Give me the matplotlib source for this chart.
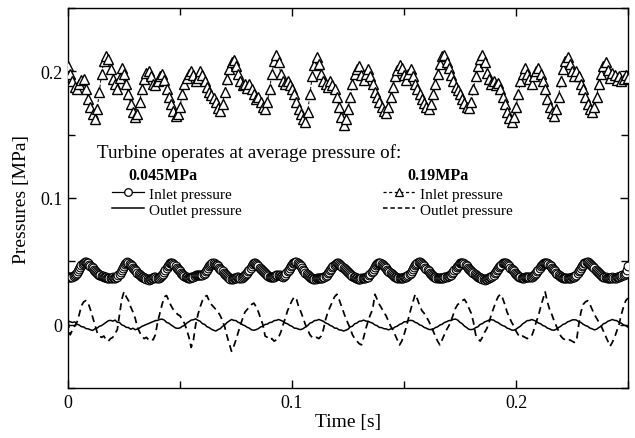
import numpy as np
import matplotlib
matplotlib.use("Agg")
import matplotlib.pyplot as plt
from matplotlib.lines import Line2D
from matplotlib.ticker import MultipleLocator, FuncFormatter

plt.rcParams['font.family'] = ['Liberation Serif', 'DejaVu Serif']

# ---------------- data (kPa) ----------------
# samples at every 1 ms (0 ... 250 ms)
inlet_019_kpa = [
    204, 198, 192, 188, 186, 190, 193, 194, 186, 178,
    172, 166, 162, 170, 184, 198, 208, 212, 210, 202,
    194, 190, 186, 195, 203, 198, 190, 182, 174, 168,
    164, 166, 176, 186, 194, 199, 200, 196, 190, 189,
    192, 196, 198, 193, 186, 180, 174, 169, 165, 166,
    172, 182, 190, 195, 198, 200, 197, 192, 195, 200,
    197, 192, 188, 184, 181, 179, 176, 171, 169, 174,
    184, 194, 202, 207, 209, 204, 198, 192, 189, 190,
    187, 190, 186, 182, 178, 180, 176, 172, 170, 176,
    186, 198, 208, 213, 207, 198, 192, 190, 192, 189,
    186, 182, 176, 170, 166, 162, 160, 168, 182, 196,
    205, 211, 206, 198, 192, 190, 188, 192, 189, 186,
    180, 172, 164, 158, 162, 170, 180, 190, 198, 202,
    204, 197, 193, 198, 202, 196, 190, 184, 180, 176,
    172, 169, 167, 172, 180, 188, 196, 201, 205, 203,
    197, 193, 198, 202, 196, 190, 186, 182, 178, 175,
    172, 170, 174, 182, 190, 198, 206, 212, 213, 207,
    203, 197, 192, 188, 185, 182, 178, 175, 172, 171,
    176, 186, 196, 204, 210, 213, 207, 199, 194, 190,
    192, 189, 191, 186, 180, 174, 168, 163, 160, 164,
    172, 182, 192, 198, 203, 198, 194, 190, 196, 200,
    203, 198, 192, 186, 178, 172, 167, 165, 170, 180,
    192, 202, 208, 211, 206, 200, 196, 200, 196, 190,
    186, 180, 174, 170, 168, 172, 180, 190, 198, 204,
    207, 201, 195, 199, 197, 193, 196, 192, 194, 197,
    195]

outlet_019_kpa = [
    3, -8, -4, -1, 2, 8, 15, 18, 19, 17,
    12, 6, 0, -6, -9, -10, -9, -12, -13, -11,
    -10, -7, -4, 8, 20, 26, 22, 19, 14, 10,
    5, -2, -6, -9, -11, -10, -12, -11, -12, -8,
    2, 9, 16, 22, 23, 19, 15, 12, 10, 8,
    7, 4, 1, -4, -10, -18, -12, 0, 8, 14,
    19, 22, 23, 19, 16, 14, 12, 10, 7, 3,
    -2, -9, -15, -21, -17, -12, -6, 0, 5, 10,
    12, 14, 16, 17, 14, 10, 5, 0, -9, -10,
    -12, -11, -13, -12, -10, -6, 0, 5, 11, 15,
    19, 22, 20, 14, 10, 5, 0, -4, -8, -10,
    -11, -10, -11, -9, -4, 4, 10, 14, 18, 22,
    24, 20, 15, 10, 5, 1, -3, -8, -11, -13,
    -15, -16, -10, -3, 3, 8, 12, 24, 20, 16,
    13, 10, 7, 3, -1, -4, -8, -12, -16, -13,
    -8, -2, 5, 12, 18, 24, 20, 15, 11, 9,
    6, 3, -1, -5, -9, -13, -16, -12, -8, -4,
    -1, 3, 8, 13, 16, 17, 19, 20, 17, 13,
    9, 2, -8, -11, -13, -10, -6, -3, 2, 8,
    13, 18, 22, 24, 21, 16, 10, 6, 2, -1,
    -5, -8, -10, -9, -10, -11, -10, -9, -4, 2,
    7, 14, 20, 26, 18, 12, 8, 3, -1, -5,
    -9, -11, -12, -13, -12, -13, -14, -13, 0, 10,
    16, 18, 19, 16, 12, 8, 5, 2, -1, -5,
    -9, -13, -17, -14, -10, -5, 0, 8, 14, 19,
    21]

inlet_0045_kpa = [
    38.0, 37.5, 38.0, 39.0, 41.0, 44.0, 47.0, 49.0, 49.5, 48.5,
    46.5, 44.5, 42.5, 41.0, 39.5, 38.5, 38.0, 37.5, 37.0, 37.0,
    37.5, 37.0, 38.0, 40.0, 43.0, 46.5, 49.0, 48.5, 47.0, 45.0,
    43.0, 41.0, 39.5, 38.0, 37.0, 36.0, 35.5, 36.0, 37.0, 37.5,
    37.0, 37.5, 39.0, 41.5, 44.5, 47.5, 49.0, 48.0, 46.0, 44.0,
    42.0, 40.0, 38.5, 37.5, 37.0, 37.5, 38.0, 39.0, 39.5, 39.0,
    39.5, 41.0, 43.5, 46.0, 48.0, 48.5, 47.5, 46.0, 44.0, 42.0,
    40.0, 38.5, 37.0, 36.0, 36.5, 37.0, 37.5, 37.0, 37.5, 39.0,
    41.0, 43.5, 46.5, 48.5, 48.0, 46.0, 44.0, 42.0, 40.5, 39.0,
    38.0, 37.5, 38.0, 39.0, 39.5, 38.5, 38.0, 39.5, 42.0, 45.0,
    47.5, 49.0, 49.5, 48.0, 46.0, 43.5, 41.0, 39.0, 37.5, 36.5,
    36.0, 36.5, 37.0, 37.0, 37.5, 38.5, 40.5, 43.0, 45.5, 47.5,
    48.5, 48.0, 46.5, 45.0, 43.5, 41.5, 40.0, 38.5, 37.5, 36.5,
    36.0, 36.5, 37.0, 37.5, 38.0, 40.0, 42.5, 45.5, 48.0, 49.0,
    48.0, 46.5, 44.5, 42.5, 40.5, 39.0, 38.0, 37.0, 36.5, 37.0,
    37.5, 38.0, 39.0, 41.0, 44.0, 47.0, 49.0, 49.5, 48.0, 46.0,
    44.0, 42.0, 40.0, 38.5, 37.5, 37.0, 36.5, 37.0, 37.5, 38.0,
    38.5, 39.5, 41.5, 44.0, 46.5, 48.5, 49.0, 48.0, 46.0, 44.0,
    42.0, 40.5, 39.0, 38.0, 37.0, 36.0, 35.5, 36.0, 37.0, 38.0,
    39.5, 41.5, 44.0, 46.5, 48.5, 49.0, 48.0, 46.0, 44.0, 42.0,
    40.0, 38.5, 37.5, 37.0, 37.5, 38.0, 37.5, 38.0, 39.0, 41.0,
    43.5, 46.0, 48.0, 49.0, 48.5, 47.0, 45.0, 43.0, 41.0, 39.5,
    38.0, 37.0, 36.5, 36.5, 37.0, 37.5, 38.0, 39.5, 42.0, 45.0,
    47.5, 49.0, 49.5, 48.0, 46.5, 44.5, 42.5, 40.5, 39.0, 38.0,
    37.5, 37.0, 37.0, 37.5, 37.0, 37.5, 38.0, 38.5, 39.5, 41.0,
    46.0]
# samples at the half-ms instants (0.5 ... 249.5 ms)
inlet_0045_half_kpa = [
    37.6, 37.8, 38.4, 40.0, 42.6, 45.5, 48.2, 49.4, 49.0, 47.4,
    45.5, 43.4, 41.8, 40.2, 39.0, 38.2, 37.8, 37.2, 36.9, 37.2,
    37.2, 37.4, 38.9, 41.5, 44.8, 47.9, 49.2, 47.8, 46.0, 44.0,
    42.0, 40.2, 38.8, 37.4, 36.5, 35.7, 35.7, 36.5, 37.3, 37.2,
    37.2, 38.2, 40.2, 43.0, 46.0, 48.4, 48.6, 47.0, 45.0, 43.0,
    41.0, 39.2, 38.0, 37.2, 37.2, 37.8, 38.5, 39.3, 39.2, 39.2,
    40.2, 42.2, 44.8, 47.0, 48.4, 48.0, 46.8, 45.0, 43.0, 41.0,
    39.2, 37.7, 36.4, 36.2, 36.8, 37.3, 37.2, 37.2, 38.2, 40.0,
    42.2, 45.0, 47.6, 48.4, 47.0, 45.0, 43.0, 41.2, 39.7, 38.5,
    37.7, 37.7, 38.5, 39.3, 39.0, 38.2, 38.7, 40.7, 43.5, 46.3,
    48.3, 49.3, 48.8, 47.0, 44.8, 42.2, 40.0, 38.2, 37.0, 36.2,
    36.2, 36.8, 37.0, 37.2, 38.0, 39.5, 41.8, 44.2, 46.5, 48.0,
    48.3, 47.2, 45.8, 44.2, 42.5, 40.8, 39.2, 38.0, 37.0, 36.2,
    36.2, 36.8, 37.2, 37.7, 39.0, 41.2, 44.0, 46.8, 48.6, 48.6,
    47.2, 45.5, 43.5, 41.5, 39.7, 38.5, 37.5, 36.7, 36.7, 37.2,
    37.7, 38.5, 40.0, 42.5, 45.5, 48.0, 49.3, 48.8, 47.0, 45.0,
    43.0, 41.0, 39.2, 38.0, 37.2, 36.7, 36.7, 37.2, 37.8, 38.2,
    39.0, 40.5, 42.8, 45.2, 47.5, 48.8, 48.5, 47.0, 45.0, 43.0,
    41.2, 39.7, 38.5, 37.5, 36.5, 35.7, 35.7, 36.5, 37.5, 38.7,
    40.5, 42.8, 45.2, 47.5, 48.8, 48.5, 47.0, 45.0, 43.0, 41.0,
    39.2, 38.0, 37.2, 37.2, 37.8, 37.7, 37.7, 38.5, 40.0, 42.2,
    44.8, 47.0, 48.6, 48.8, 47.8, 46.0, 44.0, 42.0, 40.2, 38.7,
    37.5, 36.7, 36.5, 36.7, 37.2, 37.7, 38.7, 40.7, 43.5, 46.3,
    48.3, 49.3, 48.8, 47.2, 45.5, 43.5, 41.5, 39.7, 38.5, 37.7,
    37.2, 37.0, 37.2, 37.2, 37.2, 37.7, 38.2, 39.0, 40.2, 43.5]

outlet_0045_kpa = [
    3.0, 2.3, 1.7, 2.2, 0.4, -0.3, -1.6, -1.8, -3.1, -3.3, -4.0,
    -4.6, -3.3, -2.7, -1.3, -0.7, 0.6, 1.8, 3.1, 3.4,
    2.8, 3.6, 1.9, 1.7, -0.2, -0.8, -2.1, -2.3, -3.6, -2.8, -4.0,
    -3.4, -2.6, -1.3, -0.6, 0.2, 0.9, 1.7, 2.4, 3.2, 3.4,
    4.1, 4.4, 3.6, 1.8, 1.2, -0.2, -1.4, -2.6, -2.9,
    -2.6, -1.3, -0.6, 1.2, 2.4, 3.6, 3.9, 4.6,
    3.4, 2.7, 0.8, 0.2, -1.6, -2.3, -3.6, -4.4, -5.0,
    -3.9, -3.1, -1.3, -0.2, 1.7, 2.9, 4.1,
    3.4, 3.2, 1.8, 1.2, -0.2, -0.8, -2.1, -2.8, -4.1, -4.4, -3.9,
    -3.1, -1.8, -1.2, 0.2, 0.4, 1.7, 1.9, 3.2, 3.4, 4.1, 3.4,
    2.6, 1.3, 0.7, -0.6, -1.3, -2.7, -2.9, -3.6, -3.9,
    -3.1, -1.8, -0.7, 1.2, 1.8, 3.2, 3.4, 4.1,
    3.4, 2.7, 1.3, 0.7, -0.6, -1.3, -2.7, -2.8, -4.1, -4.3, -5.0, -4.4,
    -3.6, -1.8, -1.2, 0.7, 1.3, 2.7, 2.9,
    3.6, 2.8, 2.7, 1.8, 1.2, -0.2, -0.8, -2.2, -2.3, -3.2, -3.3, -4.1, -3.4,
    -3.1, -1.8, -1.2, 0.2, 0.8, 2.2, 2.3, 3.2, 3.4,
    3.1, 1.8, 1.2, -0.2, -0.8, -2.2, -2.8, -3.7, -3.9,
    -3.6, -2.3, -1.7, -0.3, 0.3, 1.7, 2.3, 3.2, 3.3, 4.2, 4.4,
    3.6, 1.8, 0.7, -1.2, -2.3, -3.7, -3.9,
    -3.6, -2.3, -1.7, 0.2, 0.8, 2.2, 2.8, 3.7, 3.9,
    3.6, 2.3, 1.7, 0.3, -0.7, -1.3, -2.7, -3.3, -4.2, -4.4,
    -3.6, -2.3, -1.2, 0.7, 1.8, 3.2, 3.3, 4.1,
    3.4, 2.7, 1.3, 0.7, -0.7, -1.3, -2.7, -3.3, -4.2, -4.4,
    -3.6, -2.3, -1.2, 0.2, 0.8, 2.2, 2.8, 3.7, 3.9,
    3.6, 2.3, 1.7, 0.3, -0.7, -1.3, -2.7, -3.3, -4.1,
    -3.6, -2.3, -1.2, 0.7, 1.3, 2.7, 3.3, 4.1,
    3.4, 3.2, 1.8, 1.2, -0.2, -0.8, -2.0]

x_major = [0, 0.1, 0.2]
y_major = [0, 0.1, 0.2]
T_END = 0.25          # s
KPA_PER_MPA = 1000.0


def to_mpa(vals):
    return np.asarray(vals, dtype=float) / KPA_PER_MPA


def time_axis(vals):
    return np.linspace(0.0, T_END, len(vals))


def merge(full, half):
    tf = time_axis(full)
    dt = tf[1] - tf[0]
    th = tf[:-1] + dt / 2
    t = np.concatenate([tf, th[:len(half)]])
    v = np.concatenate([to_mpa(full), to_mpa(half)])
    order = np.argsort(t, kind='stable')
    return t[order], v[order]


W, H = 635, 439
fig = plt.figure(figsize=(W / 100, H / 100), dpi=100)
ax = fig.add_axes([68 / W, 1 - 389 / H, 560 / W, 380 / H])

# outlet lines
ax.plot(time_axis(outlet_0045_kpa), to_mpa(outlet_0045_kpa), color='black',
        lw=1.1, zorder=2)
ax.plot(time_axis(outlet_019_kpa), to_mpa(outlet_019_kpa), color='black',
        lw=1.25, dashes=(4, 2.6), zorder=2)

# inlet with markers
tc, vc = merge(inlet_0045_kpa, inlet_0045_half_kpa)
ax.plot(tc, vc, color='black', lw=0.8,
        marker='o', ms=6.3, mfc='white', mec='black', mew=0.8, zorder=3)
ax.plot(time_axis(inlet_019_kpa), to_mpa(inlet_019_kpa), color='black', lw=0.7,
        dashes=(3, 2), marker='^', ms=6.5, mfc='white', mec='black', mew=1.0,
        zorder=4)

ax.set_xlim(0, T_END)
ax.set_ylim(-0.05, 0.25)
ax.set_xticks(x_major)
ax.set_yticks(y_major)
ax.xaxis.set_minor_locator(MultipleLocator(0.05))
ax.yaxis.set_minor_locator(MultipleLocator(0.05))
fmt = FuncFormatter(lambda v, p: '0' if abs(v) < 1e-12 else f'{v:g}')
ax.xaxis.set_major_formatter(fmt)
ax.yaxis.set_major_formatter(fmt)
ax.tick_params(which='both', direction='in', top=True, right=True,
               labelsize=13, width=1.0, color='black')
ax.tick_params(which='major', length=6, pad=4)
ax.tick_params(which='minor', length=5)
for s in ax.spines.values():
    s.set_linewidth(1.0)

ax.set_xlabel('Time [s]', fontsize=14, labelpad=2)
ax.set_ylabel('Pressures [MPa]', fontsize=14, labelpad=7)

# annotation block
ax.text((97 - 68) / 560, (389 - 153) / 380,
        'Turbine operates at average pressure of:', fontsize=13.7,
        transform=ax.transAxes, va='center', ha='left')
ax.text((128 - 68) / 560, (389 - 176) / 380, '0.045MPa', fontsize=11.5,
        fontweight='bold', transform=ax.transAxes, va='center', ha='left')
ax.text((407 - 68) / 560, (389 - 176) / 380, '0.19MPa', fontsize=11.5,
        fontweight='bold', transform=ax.transAxes, va='center', ha='left')

h1 = [Line2D([], [], color='black', lw=0.9, marker='o', ms=5.5, mfc='white',
             mec='black', mew=0.9),
      Line2D([], [], color='black', lw=1.1)]
h2 = [Line2D([], [], color='black', lw=0.9, dashes=(2.5, 2), marker='^', ms=6,
             mfc='white', mec='black', mew=0.9),
      Line2D([], [], color='black', lw=1.1, dashes=(3, 1.8))]
leg_kw = dict(frameon=False, fontsize=11, handlelength=2.1, handletextpad=0.3,
              labelspacing=0.14, borderpad=0, borderaxespad=0, numpoints=1,
              loc='upper left')
l1 = ax.legend(h1, ['Inlet pressure', 'Outlet pressure'],
               bbox_to_anchor=((112 - 68) / 560, (389 - 188) / 380), **leg_kw)
ax.add_artist(l1)
ax.legend(h2, ['Inlet pressure', 'Outlet pressure'],
          bbox_to_anchor=((383 - 68) / 560, (389 - 188) / 380), **leg_kw)

fig.savefig('out.png', dpi=100)
